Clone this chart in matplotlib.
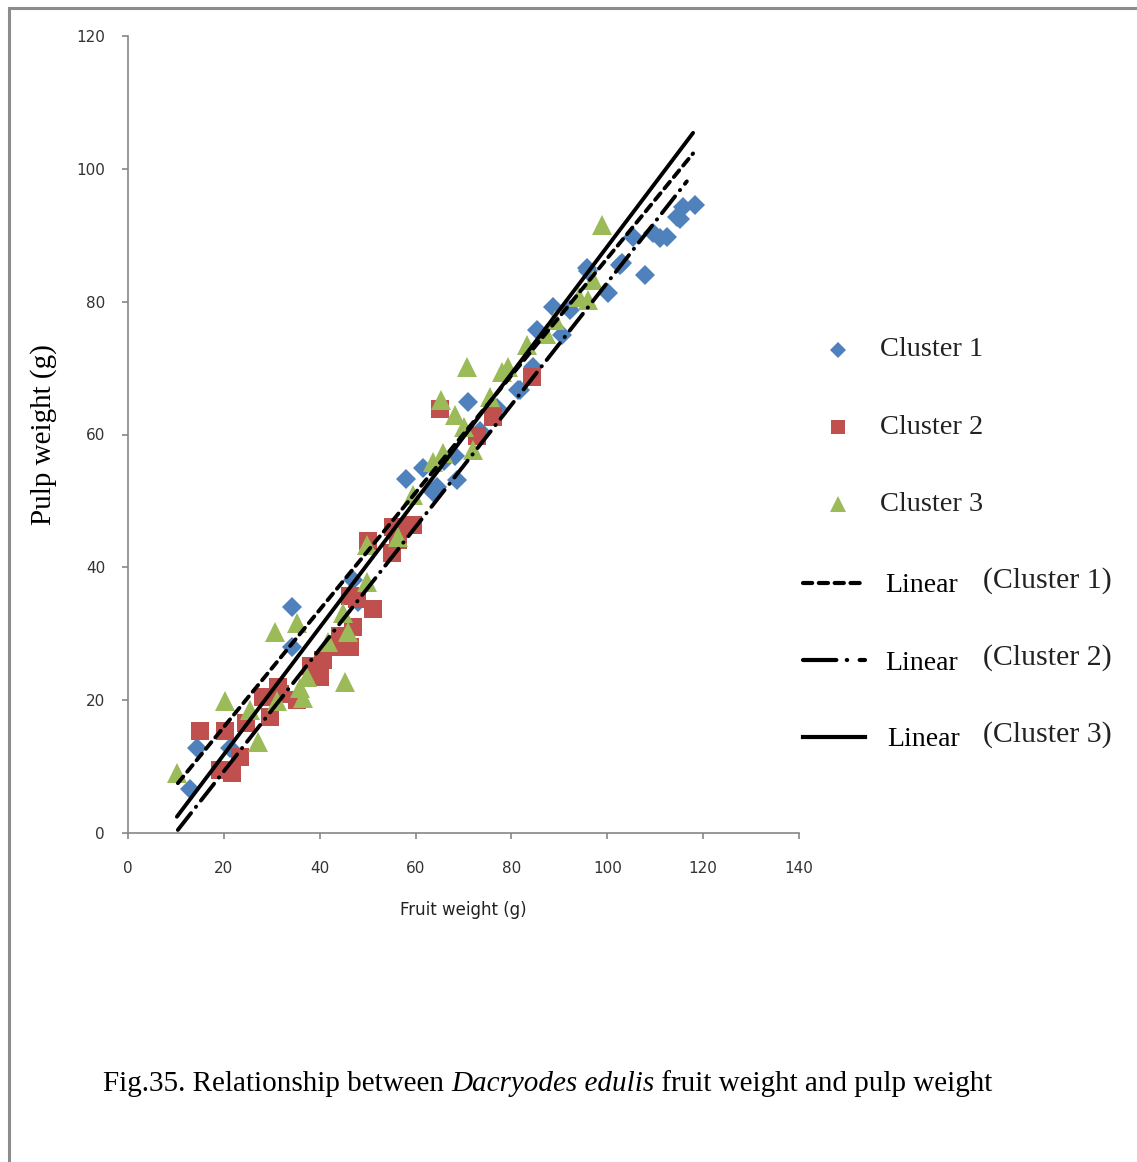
import numpy as np
import matplotlib
matplotlib.use('Agg')
import matplotlib.pyplot as plt
from matplotlib.lines import Line2D
from matplotlib.patches import Rectangle

# cluster 1 (blue diamonds)
c1_x = [12.9, 14.3, 21.3, 34.2, 34.2, 47.0, 48.0, 58.1, 61.6, 63.6, 64.5, 66.0, 68.6,
        68.2, 71.0, 73.5, 77.0, 81.4, 81.8, 84.5, 85.3, 88.7, 90.5, 92.2, 95.7, 96.0,
        100.2, 103.0, 102.6, 105.4, 107.9, 109.5, 111.0, 112.4, 114.5, 115.2, 115.8, 118.3]
c1_y = [6.7, 12.8, 12.8, 34.0, 28.0, 38.1, 34.8, 53.3, 54.9, 51.3, 52.1, 56.0, 53.1,
        56.7, 64.9, 60.5, 64.0, 66.7, 66.7, 70.2, 75.7, 79.2, 75.0, 78.7, 85.0, 84.6,
        81.3, 85.8, 85.5, 89.8, 84.0, 90.3, 89.6, 89.8, 92.7, 92.5, 94.3, 94.5]

# cluster 2 (red squares)
c2_x = [15.0, 19.2, 20.2, 21.6, 23.4, 24.6, 28.2, 29.6, 31.3, 31.7, 35.2, 38.2, 40.0,
        40.7, 44.2, 44.2, 46.3, 47.0, 46.3, 47.7, 50.1, 51.2, 55.1, 55.3, 56.3, 59.0,
        59.5, 65.1, 72.8, 76.2, 84.2]
c2_y = [15.3, 9.5, 15.3, 9.0, 11.5, 16.6, 20.5, 17.5, 22.0, 21.0, 20.0, 25.1, 23.5,
        26.0, 28.0, 29.6, 28.0, 31.0, 35.7, 35.3, 43.9, 33.8, 42.2, 46.1, 44.1, 46.4,
        46.4, 63.9, 59.7, 62.7, 68.7]

# cluster 3 (green triangles)
c3_x = [10.2, 20.2, 25.5, 27.2, 30.7, 31.0, 35.2, 35.9, 36.6, 37.3, 41.8, 44.9, 45.3,
        46.0, 49.8, 49.8, 56.4, 59.5, 63.7, 65.4, 65.8, 68.2, 70.0, 70.7, 72.0, 75.5,
        78.0, 79.3, 83.2, 87.3, 89.1, 94.0, 96.0, 97.1, 98.8]
c3_y = [9.0, 19.8, 18.5, 13.7, 30.3, 19.8, 31.6, 21.8, 20.3, 23.5, 28.8, 33.1, 22.8,
        30.3, 37.8, 43.4, 44.6, 50.9, 55.9, 65.2, 57.2, 62.9, 61.2, 70.2, 57.7, 65.7,
        69.4, 70.2, 73.5, 75.2, 77.2, 80.7, 80.2, 83.3, 91.5]

# linear trend lines: slope, intercept, x start, x end
fit_slope = [0.882, 0.9195, 0.956]
fit_icpt = [-1.67, -9.1, -7.3]
fit_x0 = [10.4, 10.4, 10.2]
fit_x1 = [117.9, 116.6, 117.9]

x_ticks = [0, 20, 40, 60, 80, 100, 120, 140]
y_ticks = [0, 20, 40, 60, 80, 100, 120]

blue = '#4F81BD'
red = '#C0504D'
green = '#9BBB59'
axcol = '#868686'

fig = plt.figure(figsize=(11.37, 11.62), dpi=100)
W, H = 1137, 1162

# page frame
fig.patches.append(Rectangle((9 / W, -0.1), 1.2, 1 - 8 / H + 0.1, transform=fig.transFigure,
                             fill=False, edgecolor='#8c8c8c', linewidth=2.2))

ax = fig.add_axes([128 / W, 1 - 833 / H, (799 - 128) / W, (833 - 36) / H])
ax.plot(c1_x, c1_y, 'D', color=blue, markersize=9.8, markeredgewidth=0, clip_on=False)
ax.plot(c2_x, c2_y, 's', color=red, markersize=12.5, markeredgewidth=0, clip_on=False)
ax.plot(c3_x, c3_y, '^', color=green, markersize=14, markeredgewidth=0, clip_on=False)

styles = [(0, (2.2, 1.6)), (0, (5.5, 2.0, 0.1, 2.0)), '-']
for i in range(3):
    xs = np.array([fit_x0[i], fit_x1[i]])
    ax.plot(xs, fit_slope[i] * xs + fit_icpt[i], color='black', linewidth=2.8,
            linestyle=styles[i], dash_capstyle='round', solid_capstyle='round')

ax.set_xlim(0, 140)
ax.set_ylim(0, 120)
ax.set_xticks(x_ticks)
ax.set_yticks(y_ticks)
for s in ['top', 'right']:
    ax.spines[s].set_visible(False)
for s in ['left', 'bottom']:
    ax.spines[s].set_color(axcol)
    ax.spines[s].set_linewidth(1.2)
ax.tick_params(axis='both', direction='out', length=4.5, width=1.2, color=axcol,
               labelsize=11, labelcolor='#333333')
ax.tick_params(axis='x', pad=16)
ax.tick_params(axis='y', pad=12)
ax.set_xlabel('Fruit weight (g)', fontsize=12, color='#222222', labelpad=18)
ax.set_ylabel('Pulp weight (g)', family='Liberation Serif', fontsize=21, labelpad=14)

# legend drawn by hand
serif = 'Liberation Serif'
leg_y = [350, 427, 504]
leg_mk = [('D', blue, 8), ('s', red, 10), ('^', green, 11)]
for i, (m, c, ms) in enumerate(leg_mk):
    fig.add_artist(Line2D([838 / W], [1 - leg_y[i] / H], marker=m, color=c, markersize=ms,
                          markeredgewidth=0, linestyle='none', transform=fig.transFigure))
    fig.text(880 / W, 1 - leg_y[i] / H, 'Cluster %d' % (i + 1), family=serif, fontsize=20.5,
             va='center', color='#222222')

lin_y = [583, 660, 737]
lin_style = [(0, (2.2, 1.6)), (0, (8.0, 2.5, 0.1, 3.0)), '-']
for i in range(3):
    fig.add_artist(Line2D([803 / W, 865 / W], [1 - lin_y[i] / H] * 2, color='black',
                          linewidth=3, linestyle=lin_style[i], dash_capstyle='round',
                          transform=fig.transFigure))
    fig.text(885 / W + (0.002 if i == 2 else 0), 1 - (lin_y[i] + 3) / H, 'Linear',
             family=serif, fontsize=20, va='center')
    fig.text(983 / W, 1 - (lin_y[i] - 2) / H, '(Cluster %d)' % (i + 1), family=serif,
             fontsize=21.5, va='center', color='#222222')

# caption with italic species name
parts = [('Fig.35. Relationship between ', 'normal'), ('Dacryodes edulis', 'italic'),
         (' fruit weight and pulp weight', 'normal')]
fig.canvas.draw()
r = fig.canvas.get_renderer()
xpos = 103
for txt, st in parts:
    t = fig.text(xpos / W, 1 - 1084 / H, txt, family=serif, style=st, fontsize=21,
                 va='center')
    xpos += t.get_window_extent(renderer=r).width

fig.savefig('out.png', dpi=100)
